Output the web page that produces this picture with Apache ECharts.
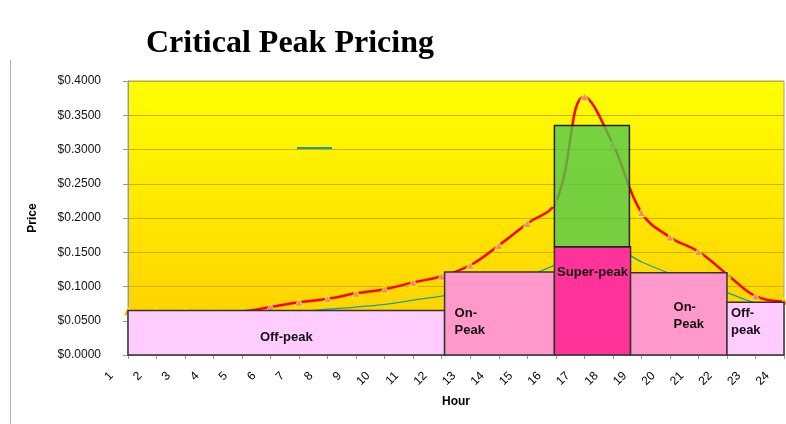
<!DOCTYPE html>
<html>
<head>
<meta charset="utf-8">
<script src="https://cdn.jsdelivr.net/npm/echarts@6/dist/echarts.min.js"></script>
<style>html,body{margin:0;padding:0;background:#fff}#c{width:786px;height:424px}</style>
</head>
<body>
<div id="c"></div>
<script>
// ---- data ----
const hourLabels = ['1','2','3','4','5','6','7','8','9','10','11','12','13','14','15','16','17','18','19','20','21','22','23','24'];
const hours = [1,2,3,4,5,6,7,8,9,10,11,12,13,14,15,16,17,18,19,20,21,22,23,24];
const loadPrice = [0.064,0.063,0.063,0.063,0.064,0.070,0.077,0.082,0.090,0.096,0.106,0.115,0.131,0.160,0.192,0.223,0.377,0.308,0.208,0.172,0.151,0.118,0.086,0.078];
const basePrice = [0.064,0.064,0.064,0.064,0.064,0.064,0.064,0.067,0.070,0.074,0.080,0.086,0.093,0.103,0.115,0.132,0.150,0.155,0.136,0.119,0.105,0.091,0.076,0.070];
const periodStart = [1, 12.1, 15.95, 18.62, 22.0];
const periodEnd = [12.1, 15.95, 18.62, 22.0, 24];
const periodPrice = [0.065, 0.121, 0.158, 0.120, 0.077];
const periodNames = ['Off-peak', 'On-\nPeak', 'Super-peak', 'On-\nPeak', 'Off-\npeak'];
const criticalStart = [15.95];
const criticalEnd = [18.58];
const criticalLow = [0.158];
const criticalHigh = [0.335];
const yTicks = [0, 0.05, 0.1, 0.15, 0.2, 0.25, 0.3, 0.35, 0.4];

// ---- styles (not data) ----
const periodFill = ['#FFCCFF', '#FF99CC', '#FF3399', '#FF99CC', '#FFCCFF'];
const periodLabelPos = [
  {align:'center', dx:0, dy:27},
  {align:'left', dx:10, dy:50},
  {align:'center', dx:0, dy:26},
  {align:'left', dx:43, dy:43},
  {align:'left', dx:4, dy:19.5}
];
const FONT = '"Liberation Sans", Arial, sans-serif';

const chart = echarts.init(document.getElementById('c'), null, {renderer:'canvas'});
const periodData = periodStart.map((s,i)=>[s, periodEnd[i], periodPrice[i], i]);
const criticalData = criticalStart.map((s,i)=>[s, criticalEnd[i], criticalLow[i], criticalHigh[i]]);

chart.setOption({
  animation: false,
  backgroundColor: '#ffffff',
  title: {
    text: 'Critical Peak Pricing',
    left: 141, top: 23,
    textStyle: {fontFamily: '"Liberation Serif", "Times New Roman", serif', fontWeight: 'bold', fontSize: 32, color: '#000'}
  },
  legend: {
    data: [{name: 'Base'}],
    left: 292, top: 142,
    icon: 'rect', itemWidth: 35, itemHeight: 2,
    formatter: function(){ return ''; },
    itemStyle: {color: '#1f9e9e'}
  },
  grid: [
    {left: 128, right: 2, top: 81, bottom: 69, show: true, borderColor: '#a0a0a0', borderWidth: 1,
     backgroundColor: {type:'linear', x:0, y:0, x2:0, y2:1, colorStops:[{offset:0, color:'#FFFF00'},{offset:1, color:'#FFCC00'}]}},
    {left: 111.5, right: 18.5, top: 81, bottom: 69}
  ],
  xAxis: [
    {type:'value', gridIndex:0, min:1, max:24, interval:1,
     axisLine:{show:true, lineStyle:{color:'#999'}},
     axisTick:{show:true, length:4, lineStyle:{color:'#999'}},
     axisLabel:{show:false}, splitLine:{show:false},
     name:'Hour', nameLocation:'middle', nameGap:41,
     nameTextStyle:{fontFamily:FONT, fontWeight:'bold', fontSize:12, color:'#000'}},
    {type:'value', gridIndex:1, min:1, max:24, interval:1,
     axisLine:{show:false}, axisTick:{show:false}, splitLine:{show:false},
     axisLabel:{rotate:45, margin:19, fontFamily:FONT, fontSize:12, color:'#000',
       formatter: function(v){ return hourLabels[v-1] || ''; }}}
  ],
  yAxis: [
    {type:'value', gridIndex:0, min:yTicks[0], max:yTicks[yTicks.length-1], interval:0.05,
     axisLine:{show:true, lineStyle:{color:'#999'}},
     axisTick:{show:true, length:5, lineStyle:{color:'#999'}},
     axisLabel:{margin:27, fontFamily:FONT, fontSize:12, color:'#111',
       formatter: function(v){ return '$' + v.toFixed(4); }},
     splitLine:{show:true, lineStyle:{color:'#C8B000', width:1}},
     name:'Price', nameLocation:'middle', nameGap:89, nameRotate:90,
     nameTextStyle:{fontFamily:FONT, fontWeight:'bold', fontSize:12, color:'#000'}},
    {type:'value', gridIndex:1, min:0, max:0.4, show:false}
  ],
  series: [
    {name:'Base', type:'line', xAxisIndex:0, yAxisIndex:0, smooth:0.4, symbol:'none',
     lineStyle:{color:'#1f9e9e', width:1.3}, z:2,
     data: hours.map((h,i)=>[h, basePrice[i]])},
    {name:'Load', type:'line', xAxisIndex:0, yAxisIndex:0, smooth:0.4,
     symbol:'triangle', symbolSize:8, showAllSymbol:true,
     itemStyle:{color:'#FF8080', borderColor:'#FFFF00', borderWidth:1},
     lineStyle:{color:'#FF0000', width:2.5}, z:3,
     data: hours.map((h,i)=>[h, loadPrice[i]])},
    {name:'Periods', type:'custom', xAxisIndex:0, yAxisIndex:0, z:5,
     encode:{x:[0,1], y:2},
     renderItem: function(params, api){
       const i = api.value(3);
       const p0 = api.coord([api.value(0), api.value(2)]);
       const p1 = api.coord([api.value(1), 0]);
       const lp = periodLabelPos[i];
       const tx = lp.align === 'center' ? (p0[0]+p1[0])/2 : p0[0] + lp.dx;
       return {type:'group', children:[
         {type:'rect', shape:{x:p0[0], y:p0[1], width:p1[0]-p0[0], height:p1[1]-p0[1]},
          style:{fill:periodFill[i], stroke:'#333', lineWidth:1.5}},
         {type:'text', style:{text:periodNames[i], x:tx, y:p0[1]+lp.dy,
           align:lp.align, verticalAlign:'middle', lineHeight:17,
           font:'bold 13px ' + FONT, fill:'#111'}}
       ]};
     },
     data: periodData},
    {name:'Critical', type:'custom', xAxisIndex:0, yAxisIndex:0, z:6,
     encode:{x:[0,1], y:[2,3]},
     renderItem: function(params, api){
       const p0 = api.coord([api.value(0), api.value(3)]);
       const p1 = api.coord([api.value(1), api.value(2)]);
       return {type:'rect', shape:{x:p0[0], y:p0[1], width:p1[0]-p0[0], height:p1[1]-p0[1]},
         style:{fill:'rgba(80,200,80,0.78)', stroke:'#222', lineWidth:1.5}};
     },
     data: criticalData}
  ],
  graphic: [
    {type:'line', shape:{x1:10.5, y1:60, x2:10.5, y2:424}, style:{stroke:'#b0b0b0', lineWidth:1}, silent:true}
  ]
});
</script>
</body>
</html>
